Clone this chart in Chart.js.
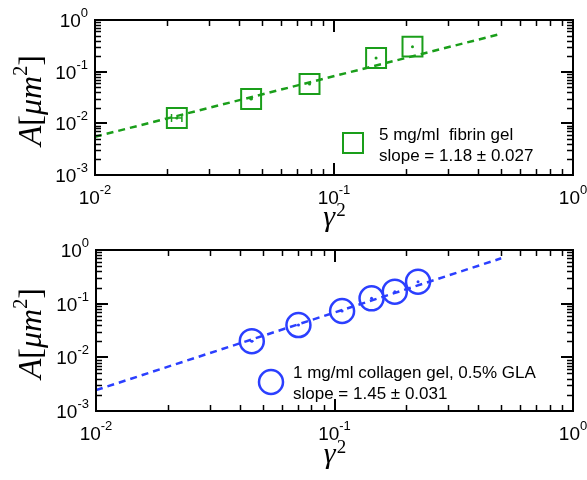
<!DOCTYPE html>
<html>
<head>
<meta charset="utf-8">
<script src="https://cdn.jsdelivr.net/npm/chart.js@4"></script>
<style>
body { margin: 0; background: #fff; }
canvas { display: block; }
</style>
</head>
<body>
<canvas id="fibrinChart" width="587" height="235"></canvas>
<canvas id="collagenChart" width="587" height="245"></canvas>
<script>
// values
var fibrinX = [0.022, 0.045, 0.079, 0.150, 0.213];
var fibrinY = [0.0127, 0.0297, 0.0578, 0.184, 0.305];
var fibrinXErr = [0.0011, 0.0008, 0.0006, 0.0005, 0.0005];
var fibrinFitX = [0.01, 0.5];
var fibrinFitY = [0.0055, 0.54];

var collagenX = [0.045, 0.0706, 0.1076, 0.143, 0.179, 0.224];
var collagenY = [0.020, 0.040, 0.073, 0.126, 0.167, 0.257];
var collagenXErr = [0.0008, 0.0006, 0.0006, 0.0005, 0.0005, 0.0005];
var collagenFitX = [0.01, 0.5];
var collagenFitY = [0.00245, 0.70];

var xDecades = [0.01, 0.1, 1];
var xExponents = ["-2", "-1", "0"];
var yDecades = [0.001, 0.01, 0.1, 1];
var yExponents = ["-3", "-2", "-1", "0"];
var minorSteps = [2, 3, 4, 5, 6, 7, 8, 9];

var green = "#1a9e1a";
var blue = "#2b3fff";

function pts(xs, ys) {
  return xs.map(function (x, i) { return { x: x, y: ys[i] }; });
}

function seg(ctx, x1, y1, x2, y2) {
  ctx.beginPath();
  ctx.moveTo(x1, y1);
  ctx.lineTo(x2, y2);
  ctx.stroke();
}

// "10" with a raised exponent; align is 'center' or 'right'
function drawPow(ctx, exp, x, base, align) {
  ctx.font = "19px 'Liberation Sans', Arial, sans-serif";
  var w1 = ctx.measureText("10").width;
  ctx.font = "13px 'Liberation Sans', Arial, sans-serif";
  var w2 = ctx.measureText(exp).width;
  var left = align === "right" ? x - w1 - w2 : x - (w1 + w2) / 2;
  ctx.fillStyle = "#000";
  ctx.textAlign = "left";
  ctx.textBaseline = "alphabetic";
  ctx.font = "19px 'Liberation Sans', Arial, sans-serif";
  ctx.fillText("10", left, base);
  ctx.font = "13px 'Liberation Sans', Arial, sans-serif";
  ctx.fillText(exp, left + w1, base - 10);
}

// inward ticks on all four sides, placed by the chart's own scales
function drawTicks(ctx, a, xs, ys) {
  var i, k, p;
  ctx.strokeStyle = "#000";
  ctx.lineWidth = 1.5;
  for (i = 0; i < xDecades.length - 1; i++) {
    for (k = 0; k < minorSteps.length; k++) {
      p = Math.round(xs.getPixelForValue(minorSteps[k] * xDecades[i])) + 0.5;
      seg(ctx, p, a.bottom, p, a.bottom - 6);
      seg(ctx, p, a.top, p, a.top + 6);
    }
  }
  for (i = 0; i < yDecades.length - 1; i++) {
    for (k = 0; k < minorSteps.length; k++) {
      p = Math.round(ys.getPixelForValue(minorSteps[k] * yDecades[i])) + 0.5;
      seg(ctx, a.left, p, a.left + 6, p);
      seg(ctx, a.right, p, a.right - 6, p);
    }
  }
  ctx.lineWidth = 2;
  for (i = 0; i < xDecades.length; i++) {
    p = Math.round(xs.getPixelForValue(xDecades[i]));
    seg(ctx, p, a.bottom, p, a.bottom - 12);
    seg(ctx, p, a.top, p, a.top + 12);
  }
  for (i = 0; i < yDecades.length; i++) {
    p = Math.round(ys.getPixelForValue(yDecades[i]));
    seg(ctx, a.left, p, a.left + 12, p);
    seg(ctx, a.right, p, a.right - 12, p);
  }
  ctx.strokeRect(a.left, a.top, a.right - a.left, a.bottom - a.top);
}

var matlabAxes = {
  id: "matlabAxes",
  afterDatasetsDraw: function (chart, args, opts) {
    var ctx = chart.ctx;
    var xs = chart.scales.x;
    var meta = chart.getDatasetMeta(1);
    var errs = opts.xErr;
    ctx.save();
    ctx.strokeStyle = opts.color;
    ctx.fillStyle = opts.color;
    ctx.lineWidth = 1.5;
    meta.data.forEach(function (p, i) {
      var raw = chart.data.datasets[1].data[i];
      var l = xs.getPixelForValue(raw.x - errs[i]);
      var r = xs.getPixelForValue(raw.x + errs[i]);
      seg(ctx, l, p.y, r, p.y);
      if (r - l > 5) {
        seg(ctx, l, p.y - 4, l, p.y + 4);
        seg(ctx, r, p.y - 4, r, p.y + 4);
      }
      ctx.beginPath();
      ctx.arc(p.x, p.y, 1.5, 0, Math.PI * 2);
      ctx.fill();
    });
    ctx.restore();
  },
  afterDraw: function (chart, args, opts) {
    var ctx = chart.ctx, a = chart.chartArea;
    var xs = chart.scales.x, ys = chart.scales.y;

    ctx.save();
    drawTicks(ctx, a, xs, ys);
    ctx.restore();

    // tick labels
    ctx.save();
    xDecades.forEach(function (v, i) {
      drawPow(ctx, xExponents[i], xs.getPixelForValue(v), a.bottom + 29, "center");
    });
    yDecades.forEach(function (v, i) {
      drawPow(ctx, yExponents[i], a.left - 7, ys.getPixelForValue(v) + 7, "right");
    });
    ctx.restore();

    // x title: gamma^2
    ctx.save();
    var cx = (a.left + a.right) / 2;
    ctx.fillStyle = "#000";
    ctx.textAlign = "left";
    ctx.font = "italic 30px 'Liberation Serif', serif";
    var gw = ctx.measureText("\u03b3").width;
    ctx.font = "19px 'Liberation Serif', serif";
    var gx = cx - (gw + ctx.measureText("2").width) / 2;
    var gb = a.bottom + opts.gammaOffset;
    ctx.font = "italic 30px 'Liberation Serif', serif";
    ctx.fillText("\u03b3", gx, gb);
    ctx.font = "19px 'Liberation Serif', serif";
    ctx.fillText("2", gx + gw + 1, gb - 10);
    ctx.restore();

    // y title: A[um^2], rotated
    ctx.save();
    ctx.fillStyle = "#000";
    ctx.textAlign = "left";
    var parts = [
      ["A", "italic 33px 'Liberation Serif', serif", 0],
      ["[", "32px 'Liberation Serif', serif", 0],
      ["\u03bcm", "italic 32px 'Liberation Serif', serif", 0],
      ["2", "20px 'Liberation Serif', serif", -14],
      ["]", "32px 'Liberation Serif', serif", 0]
    ];
    var widths = parts.map(function (p) { ctx.font = p[1]; return ctx.measureText(p[0]).width; });
    var total = widths.reduce(function (s, w) { return s + w; }, 0);
    ctx.translate(41, (a.top + a.bottom) / 2 + 3);
    ctx.rotate(-Math.PI / 2);
    var tx = -total / 2;
    parts.forEach(function (p, i) {
      ctx.font = p[1];
      ctx.fillText(p[0], tx, p[2]);
      tx += widths[i];
    });
    ctx.restore();

    // legend inside the axes
    ctx.save();
    var lg = opts.legend;
    ctx.strokeStyle = opts.color;
    if (lg.marker === "rect") {
      ctx.lineWidth = 2;
      ctx.strokeRect(lg.mx - 10, lg.my - 10, 20, 20);
    } else {
      ctx.lineWidth = 2.5;
      ctx.beginPath();
      ctx.arc(lg.mx, lg.my, 12, 0, Math.PI * 2);
      ctx.stroke();
    }
    ctx.fillStyle = "#000";
    ctx.textAlign = "left";
    ctx.font = "17px 'Liberation Sans', Arial, sans-serif";
    lg.lines.forEach(function (t, i) {
      ctx.fillText(t, lg.tx, lg.ty + i * 21);
    });
    ctx.restore();
  }
};

function makeChart(id, fitX, fitY, xVals, yVals, xErr, color, style, radius, lw, pad, yWidth, xHeight, legend, gammaOffset) {
  return new Chart(id, {
    type: "scatter",
    data: {
      datasets: [{
        data: pts(fitX, fitY),
        showLine: true,
        borderColor: color,
        borderWidth: 2.5,
        borderDash: [7, 5],
        pointRadius: 0
      }, {
        data: pts(xVals, yVals),
        showLine: false,
        pointStyle: style,
        pointRadius: radius,
        pointBorderWidth: lw,
        pointBorderColor: color,
        pointBackgroundColor: "rgba(0,0,0,0)"
      }]
    },
    options: {
      responsive: false,
      animation: false,
      layout: { autoPadding: false, padding: { top: pad, right: 14, left: 0, bottom: 0 } },
      plugins: {
        legend: { display: false },
        tooltip: { enabled: false },
        matlabAxes: { color: color, xErr: xErr, legend: legend, gammaOffset: gammaOffset }
      },
      scales: {
        x: {
          type: "logarithmic", min: 0.01, max: 1,
          ticks: { display: false }, grid: { display: false }, border: { display: false },
          afterFit: function (s) { s.height = xHeight; }
        },
        y: {
          type: "logarithmic", min: 0.001, max: 1,
          ticks: { display: false }, grid: { display: false }, border: { display: false },
          afterFit: function (s) { s.width = yWidth; }
        }
      }
    },
    plugins: [matlabAxes]
  });
}

makeChart("fibrinChart", fibrinFitX, fibrinFitY, fibrinX, fibrinY, fibrinXErr, green,
  "rect", 14.1, 2, 20, 95, 60,
  { marker: "rect", mx: 353, my: 143, tx: 379, ty: 140,
    lines: ["5 mg/ml  fibrin gel", "slope = 1.18 \u00b1 0.027"] }, 51);

makeChart("collagenChart", collagenFitX, collagenFitY, collagenX, collagenY, collagenXErr, blue,
  "circle", 12, 2.5, 15, 96, 69,
  { marker: "circle", mx: 271, my: 147, tx: 293, ty: 143,
    lines: ["1 mg/ml collagen gel, 0.5% GLA", "slope = 1.45 \u00b1 0.031"] }, 52);
</script>
</body>
</html>
